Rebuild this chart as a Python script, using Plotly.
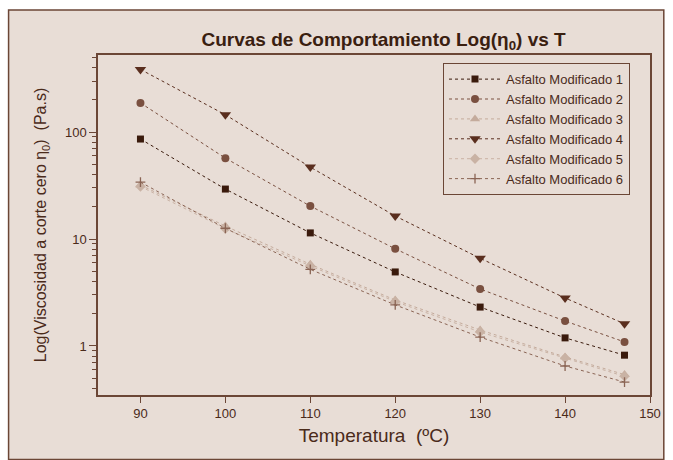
import plotly.graph_objects as go
import numpy as np

temps = [90, 100, 110, 120, 130, 140, 147]
names = ["Asfalto Modificado 1", "Asfalto Modificado 2", "Asfalto Modificado 3",
         "Asfalto Modificado 4", "Asfalto Modificado 5", "Asfalto Modificado 6"]
am1 = [86, 29.3, 11.4, 4.92, 2.31, 1.19, 0.82]
am2 = [187, 57, 20.3, 8.1, 3.41, 1.71, 1.09]
am3 = [32, 13.2, 5.8, 2.69, 1.41, 0.79, 0.54]
am4 = [385, 145, 47, 16.4, 6.6, 2.81, 1.61]
am5 = [31, 12.5, 5.6, 2.6, 1.35, 0.77, 0.52]
am6 = [34, 12.6, 5.2, 2.42, 1.21, 0.65, 0.46]
series = [am1, am2, am3, am4, am5, am6]

colors = ["#3a1a0c", "#7a5040", "#c4ab9c", "#5a2e1e", "#c9b2a4", "#8a6454"]
symbols = ["square", "circle", "triangle-up", "triangle-down", "diamond", "cross-thin"]
sizes = [7, 8, 9, 10, 8, 7]

BG = "#e8ddd6"
TXT = "#4a2a1a"
AX = "#6b4636"

fig = go.Figure()
for nm, vals, c, s, sz in zip(names, series, colors, symbols, sizes):
    mk = dict(symbol=s, size=sz, color=c)
    if s == "cross-thin":
        mk["line"] = dict(color=c, width=1.3)
    fig.add_trace(go.Scatter(
        x=temps, y=vals, name=nm, mode="lines+markers",
        line=dict(color=c, width=1, dash="dot"),
        marker=mk,
    ))

fig.update_layout(
    width=673, height=460,
    margin=dict(l=98, r=20, t=55, b=65),
    paper_bgcolor="white",
    plot_bgcolor=BG,
    font=dict(family="Liberation Sans, Arial, sans-serif", color=TXT, size=13),
    title=dict(text="<b>Curvas de Comportamiento Log(η<sub>0</sub>) vs T</b>",
               x=0.57, xanchor="center", y=0.915, yanchor="middle",
               font=dict(size=19, color="#3a2010")),
    showlegend=True,
    legend=dict(x=0.625, y=0.976, xanchor="left", yanchor="top",
                bgcolor=BG, bordercolor=AX, borderwidth=1,
                font=dict(size=13, color=TXT), tracegroupgap=0,
                itemwidth=52),
    shapes=[dict(type="rect", xref="paper", yref="paper",
                 x0=-0.162, x1=1.025, y0=-0.19, y1=1.132,
                 fillcolor=BG, line=dict(color=AX, width=1.5), layer="below")],
)

fig.update_xaxes(range=[85, 150], dtick=10, tick0=90,
                 ticks="outside", ticklen=6, tickcolor=AX,
                 showline=True, linecolor=AX, linewidth=1.5, mirror=True,
                 showgrid=False, zeroline=False,
                 tickfont=dict(size=13, color=TXT),
                 title=dict(text="Temperatura  (ºC)", font=dict(size=19, color=TXT), standoff=8))
fig.update_yaxes(type="log", range=[np.log10(0.348), np.log10(525)],
                 tickvals=[1, 10, 100], ticktext=["1", "10", "100"],
                 ticks="outside", ticklen=7, tickcolor=AX,
                 minor=dict(ticks="outside", ticklen=4, tickcolor=AX,
                            tickvals=[0.4, 0.5, 0.6, 0.7, 0.8, 0.9, 2, 3, 4, 5, 6, 7, 8, 9,
                                      20, 30, 40, 50, 60, 70, 80, 90, 200, 300, 400, 500]),
                 showline=True, linecolor=AX, linewidth=1.5, mirror=True,
                 showgrid=False, zeroline=False,
                 tickfont=dict(size=13, color=TXT),
                 title=dict(text="Log(Viscosidad a corte cero η<sub>0</sub>)  (Pa.s)",
                            font=dict(size=16, color=TXT), standoff=14))

fig.write_html("out.html")
